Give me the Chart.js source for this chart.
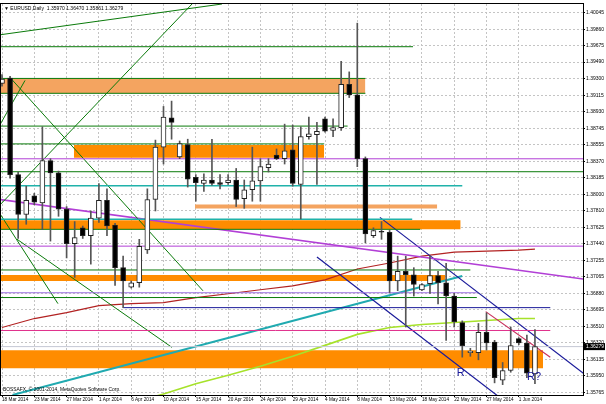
<!DOCTYPE html>
<html>
<head>
<meta charset="utf-8">
<script src="https://cdn.jsdelivr.net/npm/chart.js@4.4.1/dist/chart.umd.min.js"></script>
<style>
  html, body { margin: 0; padding: 0; background: #fff; }
  canvas { display: block; }
</style>
</head>
<body>
<canvas id="koersGrafiek" width="606" height="404"></canvas>
<script>
// EURUSD daily, bar 0 = 18 Mar 2014 (broker also prints sunday bars)
const open = [1.3925, 1.3931, 1.3822, 1.3777, 1.3798, 1.3790, 1.3838, 1.3824, 1.3783, 1.3744,
              1.3762, 1.3753, 1.3773, 1.3793, 1.3765, 1.3717, 1.3695, 1.3700, 1.3737, 1.3794,
              1.3853, 1.3886, 1.3842, 1.3856, 1.3819, 1.3812, 1.3816, 1.3813, 1.3813, 1.3816,
              1.3795, 1.3805, 1.3815, 1.3830, 1.3844, 1.3840, 1.3850, 1.3811, 1.3865, 1.3867,
              1.3885, 1.3872, 1.3875, 1.3924, 1.3912, 1.3840, 1.3753, 1.3758, 1.3757, 1.3702,
              1.3713, 1.3709, 1.3692, 1.3699, 1.3708, 1.3700, 1.3685, 1.3655, 1.3621, 1.3621,
              1.3644, 1.3633, 1.3590, 1.3601, 1.3637, 1.3632, 1.3597];
const high = [1.3935, 1.3933, 1.3825, 1.3809, 1.3801, 1.3876, 1.3840, 1.3826, 1.3786, 1.3769,
              1.3764, 1.3781, 1.3812, 1.3806, 1.3767, 1.3730, 1.3702, 1.3749, 1.3806, 1.3861,
              1.3899, 1.3905, 1.3860, 1.3862, 1.3822, 1.3823, 1.3862, 1.3822, 1.3822, 1.3829,
              1.3816, 1.3853, 1.3840, 1.3840, 1.3851, 1.3879, 1.3878, 1.3876, 1.3887, 1.3881,
              1.3887, 1.3885, 1.3950, 1.3938, 1.3993, 1.3842, 1.3762, 1.3769, 1.3759, 1.3730,
              1.3730, 1.3717, 1.3699, 1.3730, 1.3713, 1.3722, 1.3688, 1.3657, 1.3626, 1.3654,
              1.3666, 1.3635, 1.3610, 1.3650, 1.3638, 1.3641, 1.3647];
const low = [1.3922, 1.3818, 1.3750, 1.3766, 1.3788, 1.3760, 1.3747, 1.3775, 1.3728, 1.3706,
             1.3750, 1.3721, 1.3768, 1.3753, 1.3697, 1.3672, 1.3694, 1.3695, 1.3733, 1.3781,
             1.3834, 1.3862, 1.3840, 1.3808, 1.3792, 1.3803, 1.3810, 1.3806, 1.3811, 1.3786,
             1.3784, 1.3792, 1.3792, 1.3825, 1.3839, 1.3834, 1.3809, 1.3772, 1.3862, 1.3811,
             1.3870, 1.3865, 1.3872, 1.3909, 1.3831, 1.3745, 1.3751, 1.3749, 1.3689, 1.3691,
             1.3650, 1.3685, 1.3691, 1.3688, 1.3676, 1.3635, 1.3650, 1.3616, 1.3617, 1.3613,
             1.3624, 1.3587, 1.3585, 1.3599, 1.3630, 1.3593, 1.3586];
const close = [1.3930, 1.3822, 1.3777, 1.3793, 1.3791, 1.3838, 1.3824, 1.3783, 1.3744, 1.3751,
               1.3753, 1.3773, 1.3793, 1.3764, 1.3717, 1.3702, 1.3700, 1.3741, 1.3794, 1.3853,
               1.3887, 1.3881, 1.3857, 1.3817, 1.3813, 1.3816, 1.3812, 1.3811, 1.3816, 1.3794,
               1.3805, 1.3815, 1.3831, 1.3834, 1.3840, 1.3849, 1.3812, 1.3865, 1.3868, 1.3871,
               1.3871, 1.3875, 1.3924, 1.3912, 1.3840, 1.3755, 1.3759, 1.3757, 1.3702, 1.3713,
               1.3709, 1.3698, 1.3698, 1.3708, 1.3700, 1.3685, 1.3656, 1.3629, 1.3623, 1.3644,
               1.3632, 1.3593, 1.3601, 1.3629, 1.3632, 1.3598, 1.36279];

// tijd-as: label every 4 bars
const dateTicks = [0, 4, 8, 12, 16, 20, 24, 28, 32, 36, 40, 44, 48, 52, 56, 60, 64];
const dateLabels = ["18 Mar 2014", "23 Mar 2014", "27 Mar 2014", "1 Apr 2014", "6 Apr 2014", "10 Apr 2014",
                    "15 Apr 2014", "20 Apr 2014", "24 Apr 2014", "29 Apr 2014", "4 May 2014", "8 May 2014",
                    "13 May 2014", "18 May 2014", "22 May 2014", "27 May 2014", "1 Jun 2014"];
const priceTicks = [1.40045, 1.39860, 1.39675, 1.39490, 1.39300, 1.39115, 1.38930, 1.38745, 1.38555, 1.38370,
                    1.38185, 1.38000, 1.37810, 1.37625, 1.37440, 1.37255, 1.37065, 1.36880, 1.36695, 1.36510,
                    1.36320, 1.36135, 1.35950, 1.35765];

// moving averages (read every 4 bars)
const maRedIdx = [0, 4, 8, 12, 16, 20, 24, 28, 32, 36, 40, 44, 48, 52, 56, 60, 64, 66];
const maRed = [1.36495, 1.36596, 1.36663, 1.36741, 1.36764, 1.36775, 1.36831, 1.36876, 1.36921,
               1.36965, 1.37032, 1.37155, 1.37223, 1.37301, 1.37346, 1.37357, 1.37368, 1.37379];
const maLimeIdx = [16, 20, 24, 28, 32, 36, 40, 44, 48, 52, 56, 60, 64, 66];
const maLime = [1.35643, 1.35744, 1.35859, 1.35957, 1.36058, 1.36171, 1.36293, 1.36417,
                1.36495, 1.36529, 1.36551, 1.36573, 1.36596, 1.36596];

// horizontal levels: [from bar, to bar, price]
const greenLevels = [[-0.2, 50.9, 1.39664], [-0.2, 45.0, 1.39306], [-0.2, 45.0, 1.39138], [-0.2, 42.8, 1.38768],
                     [-0.2, 39.9, 1.38567], [-0.2, 72, 1.38253], [-0.2, 51.8, 1.37603], [-0.2, 58.0, 1.37144],
                     [-0.2, 58.8, 1.36833]];
const violetLevels = [[-0.2, 72, 1.38399], [-0.2, 72, 1.37413]];
const lavenderLevels = [[-0.2, 58.8, 1.36887]];
const tealLevels = [[-0.2, 57.0, 1.38096], [-0.2, 50.8, 1.37716]];
const navyLevels = [[15, 67.9, 1.36719]];
const pinkLevels = [[-0.2, 67.9, 1.36461]];

// zones: [from bar, to bar, top, bottom]
const sandyZones = [[-0.2, 45.0, 1.39306, 1.39138], [23.9, 53.9, 1.37883, 1.37839]];
const orangeZones = [[8.9, 39.9, 1.38555, 1.38410], [-0.2, 56.8, 1.37704, 1.37603],
                     [-0.2, 54.9, 1.37088, 1.37021], [-0.2, 67.0, 1.36237, 1.36035]];

// trendlines: [bar0, price0, bar1, price1]
const greenTrends = [[-0.2, 1.39799, 27.24, 1.40146], [-0.2, 1.37883, 23.65, 1.40157], [0.99, 1.39317, 24.89, 1.36909],
                     [-0.2, 1.38791, 2.85, 1.39283], [-0.2, 1.37771, 6.93, 1.36764], [1.86, 1.37491, 21.05, 1.36270]];
const violetTrends = [[-0.2, 1.37939, 72, 1.37041]];
const navyTrends = [[46.8, 1.37738, 72, 1.35979], [39.0, 1.37290, 64.1, 1.35533]];
const crimsonTrends = [[59.9, 1.36674, 67.9, 1.36159]];
const tealTrends = [[1.3, 1.35733, 57.0, 1.37077]];

const notes = [{ i: 56.8, p: 1.35981, text: "R" }, { i: 65.9, p: 1.35935, text: "R?" }];

const title = "\u25BC EURUSD,Daily  1.35970 1.36470 1.35861 1.36279";
const copyright = "BOSSAFX, \u00A9 2001-2014, MetaQuotes Software Corp.";

const datasets = [];
const last = close.length - 1;

function seg(x0, y0, x1, y1, color, width) {
    datasets.push({
        type: 'line', data: [{ x: x0, y: y0 }, { x: x1, y: y1 }],
        borderColor: color, borderWidth: width || 1, fill: false, order: 20
    });
}
function zone(z, color) {
    datasets.push({ type: 'line', data: [{ x: z[0], y: z[2] }, { x: z[1], y: z[2] }],
        borderColor: 'rgba(0,0,0,0)', fill: false, order: 30 });
    datasets.push({ type: 'line', data: [{ x: z[0], y: z[3] }, { x: z[1], y: z[3] }],
        borderColor: 'rgba(0,0,0,0)', backgroundColor: color, fill: '-1', order: 30 });
}

// bid line
seg(-0.2, close[last], 72, close[last], '#c4c8d4');
sandyZones.forEach(z => zone(z, '#f4a460'));
orangeZones.forEach(z => zone(z, '#ff8c00'));
greenLevels.forEach(l => seg(l[0], l[2], l[1], l[2], '#0a7a0a'));
violetLevels.forEach(l => seg(l[0], l[2], l[1], l[2], '#b23fd6'));
lavenderLevels.forEach(l => seg(l[0], l[2], l[1], l[2], '#9a6ee0'));
tealLevels.forEach(l => seg(l[0], l[2], l[1], l[2], '#20b2aa', 1.5));
navyLevels.forEach(l => seg(l[0], l[2], l[1], l[2], '#1a1a9a'));
pinkLevels.forEach(l => seg(l[0], l[2], l[1], l[2], '#e0308c'));
greenTrends.forEach(t => seg(t[0], t[1], t[2], t[3], '#0a7a0a'));
violetTrends.forEach(t => seg(t[0], t[1], t[2], t[3], '#b23fd6', 1.5));
navyTrends.forEach(t => seg(t[0], t[1], t[2], t[3], '#1a1a9a', 1.2));
crimsonTrends.forEach(t => seg(t[0], t[1], t[2], t[3], '#c8305c', 1.2));
tealTrends.forEach(t => seg(t[0], t[1], t[2], t[3], '#20aab0', 2));

datasets.push({ type: 'line', data: maRedIdx.map((i, k) => ({ x: i, y: maRed[k] })),
    borderColor: '#b22222', borderWidth: 1.2, fill: false, order: 20 });
datasets.push({ type: 'line', data: maLimeIdx.map((i, k) => ({ x: i, y: maLime[k] })),
    borderColor: '#a6e22a', borderWidth: 1.6, fill: false, order: 20 });

const idx = open.map((_, i) => i);
// wieken en lichamen
datasets.push({ type: 'bar', data: idx.map(i => ({ x: i, y: [low[i], high[i]] })),
    backgroundColor: '#555', barThickness: 1, grouped: false, order: 2 });
datasets.push({ type: 'bar', data: idx.map(i => ({ x: i, y: [open[i], close[i]] })),
    backgroundColor: idx.map(i => close[i] >= open[i] ? '#ffffff' : '#000000'),
    borderColor: '#222', borderWidth: 1, borderSkipped: false, barThickness: 5,
    minBarLength: 1, grouped: false, order: 1 });

const extras = {
    id: 'extras',
    afterDatasetsDraw(chart) {
        const { ctx, chartArea: a, scales: { x, y } } = chart;
        ctx.save();
        ctx.strokeStyle = '#000';
        ctx.lineWidth = 1;
        ctx.strokeRect(a.left - 0.5, a.top - 0.5, a.right - a.left + 1, a.bottom - a.top + 1);

        ctx.fillStyle = '#1a1a9a';
        ctx.font = '11px "Liberation Sans"';
        ctx.textAlign = 'center';
        ctx.textBaseline = 'middle';
        notes.forEach(n => ctx.fillText(n.text, x.getPixelForValue(n.i), y.getPixelForValue(n.p)));

        ctx.fillStyle = '#000';
        ctx.textAlign = 'left';
        ctx.font = '5px "Liberation Sans"';
        ctx.fillText(title, a.left + 3, a.top + 5);
        ctx.font = '4.9px "Liberation Sans"';
        ctx.fillText(copyright, a.left + 2, a.bottom - 5);

        const py = y.getPixelForValue(close[last]);
        ctx.fillRect(a.right, py - 3.5, 22, 7);
        ctx.fillStyle = '#fff';
        ctx.font = '5px "Liberation Sans"';
        ctx.fillText(close[last].toFixed(5), a.right + 3, py);
        ctx.restore();
    }
};

new Chart(document.getElementById('koersGrafiek').getContext('2d'), {
    type: 'bar',
    data: { datasets: datasets },
    options: {
        responsive: false,
        animation: false,
        events: [],
        layout: { padding: { left: 1, top: 1, right: 0, bottom: 0 } },
        elements: { point: { radius: 0, hoverRadius: 0 }, line: { tension: 0 } },
        plugins: { legend: { display: false }, tooltip: { enabled: false } },
        scales: {
            x: {
                type: 'linear', min: -0.124, max: 71.95, offset: false,
                afterBuildTicks: ax => { ax.ticks = dateTicks.map(v => ({ value: v })); },
                afterFit: ax => { ax.height = 9; },
                ticks: {
                    autoSkip: false, maxRotation: 0, align: 'start', padding: 0, color: '#000',
                    font: { family: 'Liberation Sans', size: 4.7 },
                    callback: v => dateLabels[dateTicks.indexOf(v)]
                },
                grid: { color: '#c4c4c4', offset: false, tickLength: 2, tickColor: '#000' },
                border: { display: true, color: '#000', dash: [2, 2] }
            },
            y: {
                type: 'linear', position: 'right', min: 1.35733, max: 1.40146, beginAtZero: false,
                afterBuildTicks: ax => { ax.ticks = priceTicks.map(v => ({ value: v })); },
                afterFit: ax => { ax.width = 23; },
                ticks: {
                    autoSkip: false, padding: 1, color: '#000',
                    font: { family: 'Liberation Sans', size: 5 },
                    callback: v => v.toFixed(5)
                },
                grid: { color: '#c4c4c4', tickLength: 2, tickColor: '#000' },
                border: { display: true, color: '#000', dash: [2, 2] }
            }
        }
    },
    plugins: [extras]
});
</script>
</body>
</html>
